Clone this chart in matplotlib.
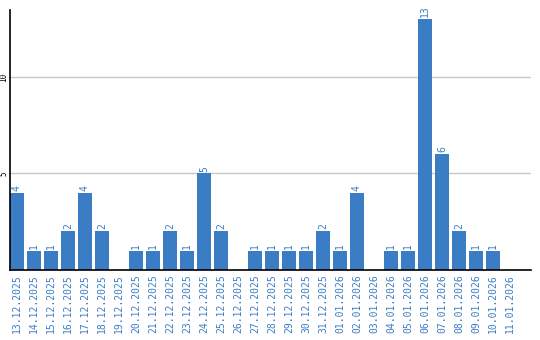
import matplotlib
matplotlib.use("Agg")
import matplotlib.pyplot as plt

dates = ["13.12.2025", "14.12.2025", "15.12.2025", "16.12.2025", "17.12.2025",
         "18.12.2025", "19.12.2025", "20.12.2025", "21.12.2025", "22.12.2025",
         "23.12.2025", "24.12.2025", "25.12.2025", "26.12.2025", "27.12.2025",
         "28.12.2025", "29.12.2025", "30.12.2025", "31.12.2025", "01.01.2026",
         "02.01.2026", "03.01.2026", "04.01.2026", "05.01.2026", "06.01.2026",
         "07.01.2026", "08.01.2026", "09.01.2026", "10.01.2026", "11.01.2026"]
counts = [4, 1, 1, 2, 4, 2, 0, 1, 1, 2, 1, 5, 2, 0, 1, 1, 1, 1, 2, 1,
          4, 0, 1, 1, 13, 6, 2, 1, 1, 0]
yticks = [5, 10]

blue = "#3b7dc4"
font = "DejaVu Sans Mono"

fig = plt.figure(figsize=(5.4, 3.4), dpi=100)
ax = fig.add_axes([10 / 540, 70 / 340, 521 / 540, 260 / 340])

x = list(range(len(dates)))
ax.bar(x, counts, width=0.82, align="edge", color=blue, zorder=2)
for xi, c in zip(x, counts):
    if c > 0:
        ax.text(xi + 0.41, c + 0.1, str(c), rotation=90, ha="center", va="bottom",
                color=blue, fontsize=7, family=font)

ax.set_xlim(0, 30.65)
ax.set_ylim(0, 13.47)
ax.set_yticks(yticks)
ax.set_yticklabels([str(t) for t in yticks], rotation=90, va="center",
                   fontsize=5.5, family=font)
ax.set_xticks([xi + 0.41 for xi in x])
ax.set_xticklabels(dates, rotation=90, color=blue, fontsize=7, family=font)
ax.tick_params(axis="x", length=0, pad=3)
ax.tick_params(axis="y", length=0, pad=1)
ax.yaxis.grid(True, color="#c8c8c8", linewidth=1, zorder=0)
for s in ["top", "right"]:
    ax.spines[s].set_visible(False)
ax.spines["left"].set_linewidth(1.2)
ax.spines["bottom"].set_linewidth(1.2)

fig.savefig("out.png", dpi=100)
